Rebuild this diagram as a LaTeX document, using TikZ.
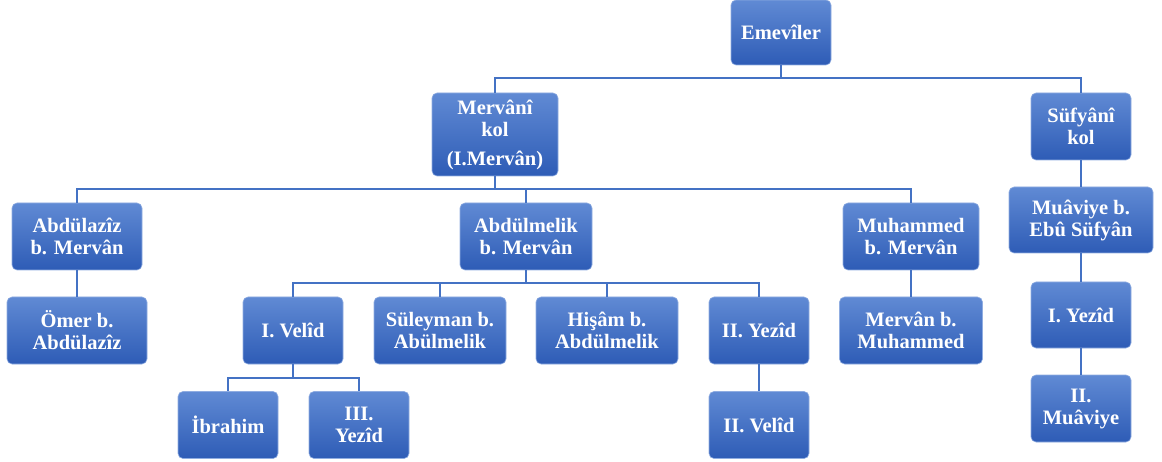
\documentclass[tikz,border=0pt]{standalone}
\usepackage{fontspec}
\setmainfont{Liberation Serif}
\definecolor{boxtop}{RGB}{96,138,212}
\definecolor{boxbot}{RGB}{46,92,182}
\definecolor{linec}{RGB}{68,114,196}
\begin{document}
\begin{tikzpicture}[x=1pt,y=-1pt,
  bx/.style={rounded corners=5pt, top color=boxtop, bottom color=boxbot, draw=boxtop!70!white, line width=0.6pt,
    text=white, font=\bfseries\fontsize{20.5}{22}\selectfont, align=center, inner sep=0pt,
    minimum width=100pt, minimum height=67pt},
  ln/.style={draw=linec, line width=1.1pt}]
\useasboundingbox (0,0) rectangle (1162,462);
\node[bx, minimum height=65pt] (eme) at (781,32.5) {Emevîler};
\node[bx, minimum width=126pt, minimum height=83pt] (mer) at (495,134.5) {Mervânî\\kol\\[7pt](I.Mervân)};
\node[bx, minimum height=67pt] (suf) at (1081,126.5) {Süfyânî\\kol};
\node[bx, minimum width=130pt] (abz) at (77,236.5) {Abdülazîz\\b. Mervân};
\node[bx, minimum width=132pt] (abm) at (526,236.5) {Abdülmelik\\b. Mervân};
\node[bx, minimum width=136pt] (muh) at (911,236.5) {Muhammed\\b. Mervân};
\node[bx, minimum width=144pt, minimum height=66pt] (mua) at (1081,220) {Muâviye b.\\Ebû Süfyân};
\node[bx, minimum width=140pt] (omr) at (77,330.5) {Ömer b.\\Abdülazîz};
\node[bx] (vel) at (293,330.5) {I. Velîd};
\node[bx, minimum width=132pt] (sul) at (440,330.5) {Süleyman b.\\Abülmelik};
\node[bx, minimum width=142pt] (his) at (607,330.5) {Hişâm b.\\Abdülmelik};
\node[bx] (yez2) at (759,330.5) {II. Yezîd};
\node[bx, minimum width=143pt] (mrm) at (911,330.5) {Mervân b.\\Muhammed};
\node[bx, minimum height=66pt] (yez1) at (1081,315) {I. Yezîd};
\node[bx, minimum height=67pt] (mua2) at (1081,408.5) {II.\\Muâviye};
\node[bx] (ibr) at (228,425) {İbrahim};
\node[bx] (yez3) at (359,425) {III.\\Yezîd};
\node[bx] (vel2) at (759,425) {II. Velîd};
\coordinate (b1) at (0,78);
\coordinate (b2) at (0,189);
\coordinate (b3) at (0,283);
\coordinate (b4) at (0,378);
\draw[ln] (eme.south) -- (eme.south |- b1) -| (mer.north);
\draw[ln] (eme.south |- b1) -| (suf.north);
\draw[ln] (mer.south) -- (mer.south |- b2) -| (abz.north);
\draw[ln] (mer.south |- b2) -| (abm.north);
\draw[ln] (mer.south |- b2) -| (muh.north);
\draw[ln] (abm.south) -- (abm.south |- b3) -| (vel.north);
\draw[ln] (abm.south |- b3) -| (sul.north);
\draw[ln] (abm.south |- b3) -| (his.north);
\draw[ln] (abm.south |- b3) -| (yez2.north);
\draw[ln] (vel.south) -- (vel.south |- b4) -| (ibr.north);
\draw[ln] (vel.south |- b4) -| (yez3.north);
\draw[ln] (abz) -- (omr);
\draw[ln] (muh) -- (mrm);
\draw[ln] (yez2) -- (vel2);
\draw[ln] (suf) -- (mua);
\draw[ln] (mua) -- (yez1);
\draw[ln] (yez1) -- (mua2);
\end{tikzpicture}
\end{document}
